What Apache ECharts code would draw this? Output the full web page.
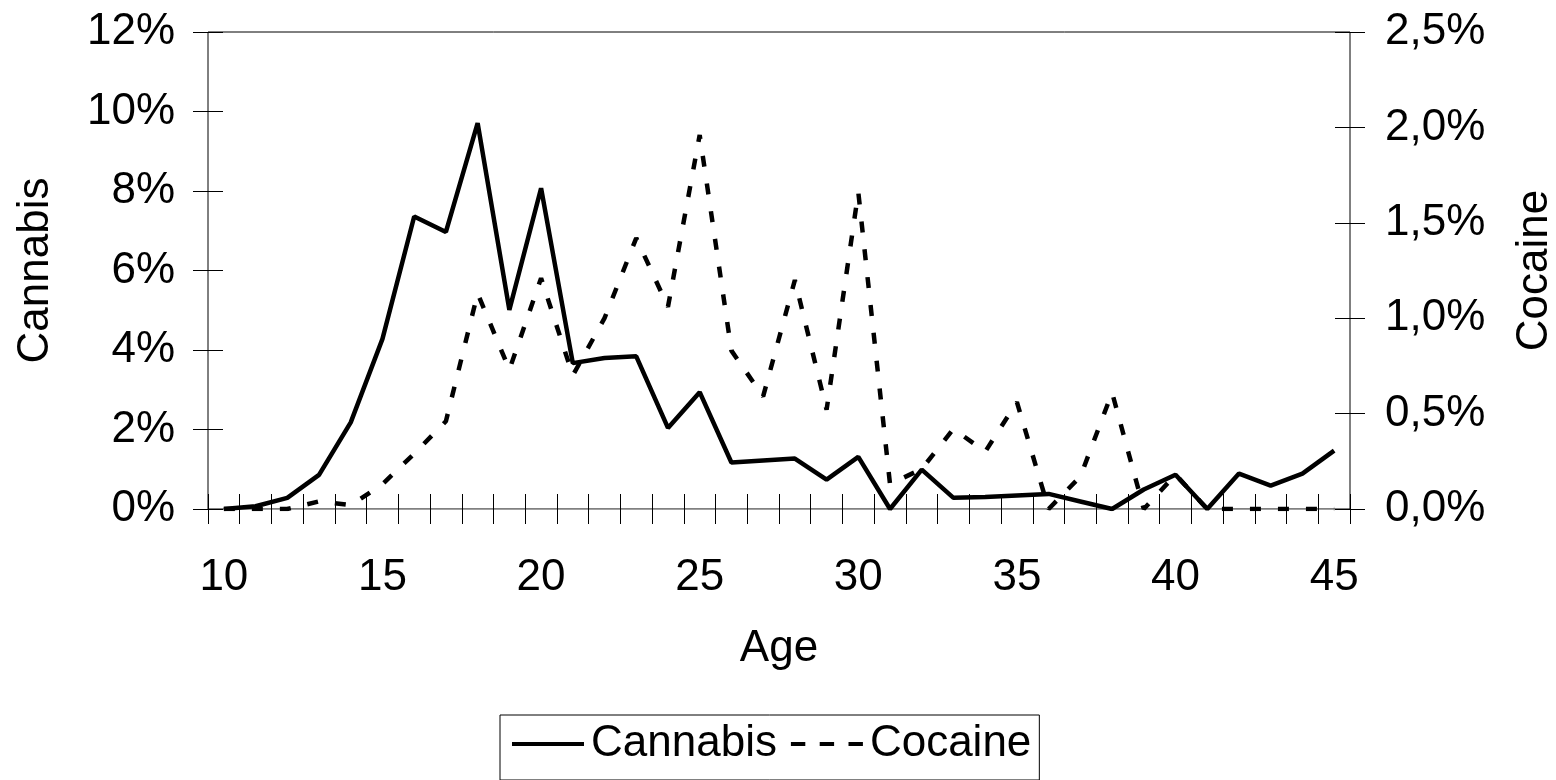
<!DOCTYPE html>
<html>
<head>
<meta charset="utf-8">
<script src="https://cdn.jsdelivr.net/npm/echarts@6/dist/echarts.min.js"></script>
<style>
html,body{margin:0;padding:0;background:#fff;}
#chart{width:1556px;height:780px;}
</style>
</head>
<body>
<div id="chart"></div>
<script>
const ages = [10,11,12,13,14,15,16,17,18,19,20,21,22,23,24,25,26,27,28,29,30,31,32,33,34,35,36,37,38,39,40,41,42,43,44,45];
const cannabis = [0,0.07,0.28,0.86,2.18,4.28,7.36,6.97,9.71,5.01,8.07,3.67,3.80,3.84,2.04,2.94,1.17,1.22,1.27,0.74,1.31,0,0.99,0.28,0.30,0.34,0.38,0.19,0,0.49,0.86,0,0.89,0.59,0.89,1.47];
const cocaine = [0,0,0,0.04,0.02,0.13,0.29,0.46,1.13,0.73,1.21,0.70,1.00,1.42,1.06,1.96,0.83,0.59,1.20,0.52,1.66,0.13,0.21,0.42,0.30,0.56,0,0.17,0.61,0,0.18,0,0,0,0,0];
const leftTicks = {min:0, max:12, interval:2};
const rightTicks = {min:0, max:2.5, interval:0.5};

const FONT = "'Liberation Sans', Arial, sans-serif";
const FS = 44;
const TICK = 15;
const chart = echarts.init(document.getElementById('chart'), null, {renderer:'canvas'});
const xLabelInterval = function(idx, val){ return (Number(val) % 5) === 0; };

const option = {
  animation:false,
  backgroundColor:'#fff',
  textStyle:{fontFamily:FONT},
  grid:{left:208, right:206, top:32, bottom:271, show:true, borderColor:'#000', borderWidth:1,
        containLabel:false, outerBoundsMode:'none'},
  legend:{
    left:500, top:715,
    data:[
      {name:'Cannabis', icon:'path://M0,0h72v4h-72z'},
      {name:'Cocaine', icon:'path://M0,0h15v4h-15zM30,0h15v4h-15zM60,0h15v4h-15z'}
    ],
    orient:'horizontal',
    itemWidth:72, itemHeight:4, itemGap:14,
    padding:[7,8,14,12],
    borderColor:'#000', borderWidth:1,
    itemStyle:{color:'#000', borderWidth:0},
    textStyle:{fontFamily:FONT, fontSize:FS, color:'#000', padding:[0,0,0,2]}
  },
  xAxis:[{
    type:'category', data:ages, boundaryGap:true, position:'bottom', offset:-TICK,
    name:'Age', nameLocation:'middle', nameGap:118+TICK,
    nameTextStyle:{fontFamily:FONT, fontSize:FS, color:'#000'},
    axisLine:{show:false},
    axisTick:{show:true, interval:0, length:2*TICK, lineStyle:{color:'#000'}},
    axisLabel:{interval:xLabelInterval, margin:47+TICK, fontFamily:FONT, fontSize:FS, color:'#000'},
    splitLine:{show:false}
  },{
    type:'category', data:ages, boundaryGap:true, position:'top',
    axisLine:{show:true, lineStyle:{color:'#a0a0a0', width:1}},
    axisTick:{show:false}, axisLabel:{show:false}, splitLine:{show:false}
  }],
  yAxis:[{
    type:'value', position:'left', offset:-TICK, min:leftTicks.min, max:leftTicks.max, interval:leftTicks.interval,
    name:'Cannabis', nameLocation:'middle', nameGap:150+TICK, nameRotate:90,
    nameTextStyle:{fontFamily:FONT, fontSize:FS, color:'#000'},
    axisLine:{show:false},
    axisTick:{show:true, length:2*TICK, lineStyle:{color:'#000'}},
    axisLabel:{margin:33+TICK, fontFamily:FONT, fontSize:FS, color:'#000', formatter:function(v){return v+'%';}},
    splitLine:{show:false}
  },{
    type:'value', position:'right', offset:-TICK, min:rightTicks.min, max:rightTicks.max, interval:rightTicks.interval,
    name:'Cocaine', nameLocation:'middle', nameGap:163+TICK, nameRotate:90,
    nameTextStyle:{fontFamily:FONT, fontSize:FS, color:'#000'},
    axisLine:{show:false},
    axisTick:{show:true, length:2*TICK, lineStyle:{color:'#000'}},
    axisLabel:{margin:35+TICK, fontFamily:FONT, fontSize:FS, color:'#000', formatter:function(v){return v.toFixed(1).replace('.', ',')+'%';}},
    splitLine:{show:false}
  }],
  series:[{
    name:'Cocaine', type:'line', xAxisIndex:0, yAxisIndex:1, data:cocaine,
    symbol:'none', smooth:false,
    lineStyle:{color:'#000', width:4.5, type:[11,17], cap:'butt'},
    itemStyle:{color:'#000'}, z:2
  },{
    name:'Cannabis', type:'line', xAxisIndex:0, yAxisIndex:0, data:cannabis,
    symbol:'none', smooth:false,
    lineStyle:{color:'#000', width:4.5, type:'solid'},
    itemStyle:{color:'#000'}, z:3
  }]
};
chart.setOption(option);
</script>
</body>
</html>
